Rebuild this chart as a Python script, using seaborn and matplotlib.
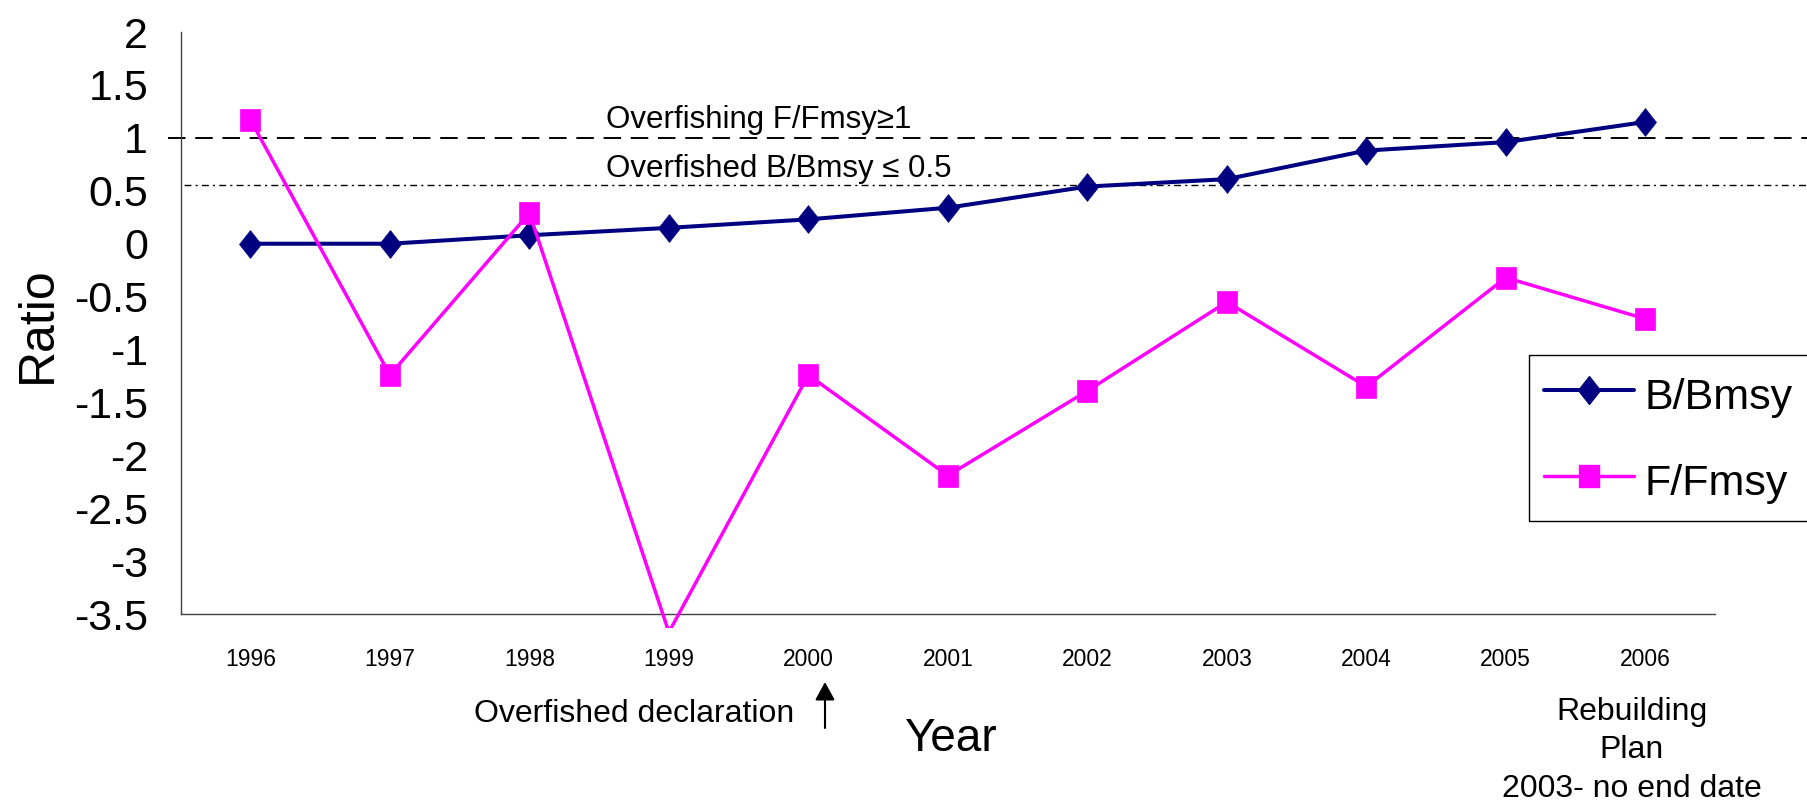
import numpy as np
import seaborn as sns
import matplotlib
matplotlib.use("Agg")
import matplotlib.pyplot as plt
from matplotlib.path import Path
from matplotlib.lines import Line2D

# datos
years = [1996, 1997, 1998, 1999, 2000, 2001, 2002, 2003, 2004, 2005, 2006]
b_bmsy = [0.0, 0.0, 0.08, 0.15, 0.23, 0.34, 0.54, 0.61, 0.88, 0.96, 1.15]
f_fmsy = [1.17, -1.24, 0.29, -3.67, -1.24, -2.19, -1.39, -0.55, -1.35, -0.32, -0.71]
y_ticks = [2, 1.5, 1, 0.5, 0, -0.5, -1, -1.5, -2, -2.5, -3, -3.5]
y_labels = ["2", "1.5", "1", "0.5", "0", "-0.5", "-1", "-1.5", "-2", "-2.5", "-3", "-3.5"]
year_labels = [str(y) for y in years]
overfishing_level = 1.0
overfished_level = 0.55

sns.set_style("white")
plt.rcParams["font.family"] = ["Liberation Sans", "DejaVu Sans"]
plt.rcParams["text.color"] = "black"
plt.rcParams["xtick.color"] = "black"
plt.rcParams["ytick.color"] = "black"
plt.rcParams["axes.labelcolor"] = "black"

navy = "#000080"
magenta = "#FF00FF"

# marcadores como en Excel
diamond = Path([(0, 1), (0.79, 0), (0, -1), (-0.79, 0), (0, 1)],
               [Path.MOVETO, Path.LINETO, Path.LINETO, Path.LINETO, Path.CLOSEPOLY])
square = Path([(-0.85, -1), (0.85, -1), (0.85, 1), (-0.85, 1), (-0.85, -1)],
              [Path.MOVETO, Path.LINETO, Path.LINETO, Path.LINETO, Path.CLOSEPOLY])

fig = plt.figure(figsize=(18.08, 8.07), dpi=100)
ax = fig.add_axes([180.7 / 1808, 1 - 628 / 807, (1715 - 180.7) / 1808, (628 - 32) / 807])

# lineas de referencia
ax.axhline(overfishing_level, xmin=-0.0083, xmax=1.07, clip_on=False, color="black",
           lw=1.4, ls=(0, (9, 5)), zorder=1)
ax.axhline(overfished_level, xmin=0.002, xmax=1.07, clip_on=False, color="black",
           lw=1.0, ls=(0, (5, 3, 1.5, 3)), zorder=1)

sns.lineplot(x=years, y=b_bmsy, ax=ax, color=navy, lw=2.9, marker=diamond,
             markersize=20, markeredgecolor=navy, markerfacecolor=navy, mew=0.5, zorder=3)
sns.lineplot(x=years, y=f_fmsy, ax=ax, color=magenta, lw=2.5, marker=square,
             markersize=16.5, markeredgecolor=magenta, markerfacecolor=magenta, mew=0.5, zorder=4)
line_f = ax.get_lines()[-1]
line_f.set_markevery([i for i, v in enumerate(f_fmsy) if v >= -3.5])

ax.set_xlim(1995.5, 2006.5)
ax.set_ylim(-3.63, 2)

ax.spines["top"].set_visible(False)
ax.spines["right"].set_visible(False)
ax.spines["bottom"].set_position(("data", -3.5))
ax.spines["left"].set_bounds(-3.5, 2)
for s in ("bottom", "left"):
    ax.spines[s].set_color("#404040")
    ax.spines[s].set_linewidth(1.0)

ax.set_yticks(y_ticks)
ax.set_yticklabels(y_labels, fontsize=31)
ax.tick_params(axis="y", direction="out", length=9.5, width=1, color="#808080", pad=14)

ax.set_xticks(np.arange(1995.5, 2007, 1))
ax.set_xticklabels([])
ax.set_xticks(years, minor=True)
ax.set_xticklabels(year_labels, minor=True, fontsize=16.5)
ax.tick_params(axis="x", which="major", direction="out", length=6.5, width=1, color="#404040")
ax.tick_params(axis="x", which="minor", length=0, pad=24)
ax.set_xlabel("")
ax.set_ylabel("")

# textos de las lineas
ax.text(1998.55, 1.093, "Overfishing F/Fmsy\u22651", fontsize=22.5, va="baseline", ha="left")
ax.text(1998.55, 0.629, "Overfished B/Bmsy \u2264 0.5", fontsize=22.5, va="baseline", ha="left")

# titulos de ejes
fig.text(15 / 1808, 1 - 325 / 807, "Ratio", rotation=90, fontsize=36, ha="left", va="center")
fig.text(950 / 1808, 1 - 751 / 807, "Year", fontsize=33, ha="center", va="baseline")

# anotaciones
fig.text(474 / 1808, 1 - 722 / 807, "Overfished declaration", fontsize=23,
         ha="left", va="baseline")
fig.text(1632 / 1808, 1 - 697 / 807, "Rebuilding\nPlan\n2003- no end date", fontsize=23,
         ha="center", va="top", linespacing=1.36, multialignment="center")
ax.annotate("", xy=(825 / 1808, 1 - 682 / 807), xytext=(825 / 1808, 1 - 728 / 807),
            xycoords="figure fraction", textcoords="figure fraction",
            arrowprops=dict(arrowstyle="-|>,head_length=0.55,head_width=0.3",
                            mutation_scale=20, color="black", lw=1.5,
                            shrinkA=0, shrinkB=0))

# leyenda
handles = [
    Line2D([], [], color=navy, lw=2.9, marker=diamond, markersize=20,
           markerfacecolor=navy, markeredgecolor=navy),
    Line2D([], [], color=magenta, lw=2.5, marker=square, markersize=16.5,
           markerfacecolor=magenta, markeredgecolor=magenta),
]
leg = fig.legend(handles, ["B/Bmsy", "F/Fmsy"], loc="upper left",
                 bbox_to_anchor=(1529 / 1808, 1 - 355 / 807), bbox_transform=fig.transFigure,
                 frameon=True, fancybox=False, edgecolor="black", framealpha=1,
                 prop={"size": 31}, handlelength=2.1, handleheight=1.4,
                 handletextpad=0.23, borderpad=0.35, labelspacing=0.84, borderaxespad=0)
leg.get_frame().set_linewidth(1.0)

fig.savefig("out.png", dpi=100, facecolor="white")
